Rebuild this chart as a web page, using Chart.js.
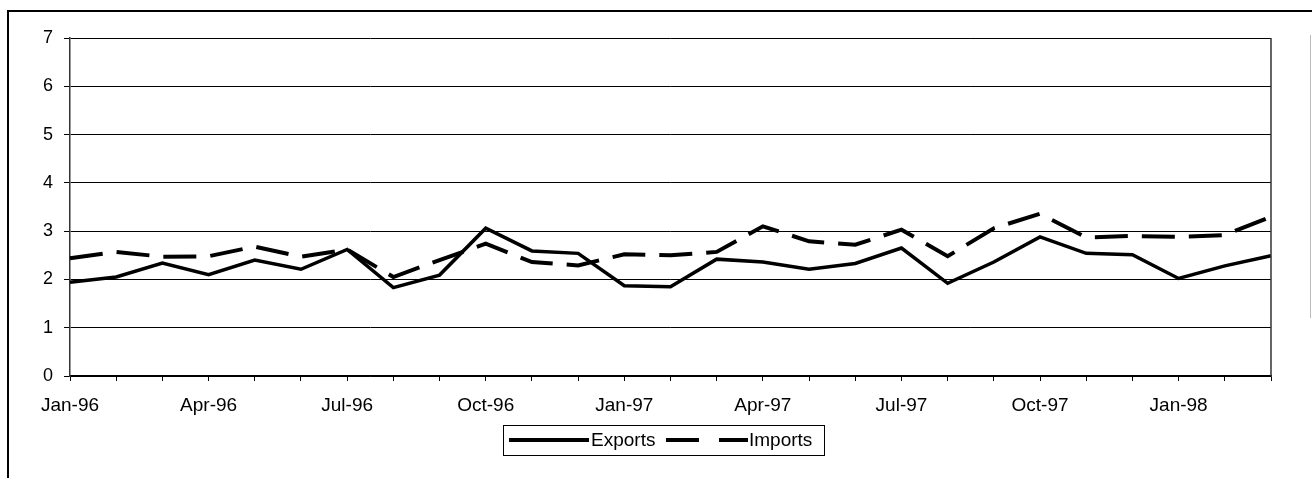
<!DOCTYPE html>
<html>
<head>
<meta charset="utf-8">
<script src="https://cdn.jsdelivr.net/npm/chart.js@4.4.1/dist/chart.umd.min.js"></script>
<style>
  html, body { margin: 0; padding: 0; background: #fff; }
  #wrap { width: 1312px; height: 478px; position: relative; }
  canvas { display: block; }
</style>
</head>
<body>
<div id="wrap"><canvas id="c" width="1312" height="478"></canvas></div>
<script>
const months = ["Jan-96","Feb-96","Mar-96","Apr-96","May-96","Jun-96","Jul-96","Aug-96","Sep-96","Oct-96","Nov-96","Dec-96",
                "Jan-97","Feb-97","Mar-97","Apr-97","May-97","Jun-97","Jul-97","Aug-97","Sep-97","Oct-97","Nov-97","Dec-97",
                "Jan-98","Feb-98","Mar-98"];
const exportsData = [1.94, 2.05, 2.34, 2.10, 2.40, 2.21, 2.62, 1.83, 2.09, 3.06, 2.59, 2.54, 1.87, 1.85, 2.42, 2.36, 2.21, 2.33, 2.65, 1.92, 2.36, 2.88, 2.54, 2.51, 2.02, 2.28, 2.49];
const importsData = [2.44, 2.57, 2.47, 2.48, 2.68, 2.47, 2.62, 2.05, 2.40, 2.74, 2.36, 2.29, 2.52, 2.50, 2.57, 3.10, 2.79, 2.72, 3.03, 2.48, 3.06, 3.36, 2.87, 2.90, 2.88, 2.92, 3.30];
const seriesNames = ["Exports", "Imports"];
const yTicks = [0, 1, 2, 3, 4, 5, 6, 7];

const FONT = "'Liberation Sans', Arial, Helvetica, sans-serif";
Chart.defaults.font.family = FONT;
Chart.defaults.color = "#000";

const framePlugin = {
  id: "frame",
  beforeDraw(chart) {
    const ctx = chart.ctx;
    ctx.save();
    ctx.fillStyle = "#fff";
    ctx.fillRect(0, 0, chart.width, chart.height);
    ctx.restore();
  },
  afterDraw(chart) {
    const ctx = chart.ctx;
    const a = chart.chartArea;
    ctx.save();
    // outer frame
    ctx.strokeStyle = "#000";
    ctx.lineWidth = 2;
    ctx.beginPath();
    ctx.moveTo(8, chart.height);
    ctx.lineTo(8, 11);
    ctx.lineTo(chart.width, 11);
    ctx.stroke();
    ctx.strokeStyle = "#bbb";
    ctx.lineWidth = 1;
    ctx.beginPath();
    ctx.moveTo(1310.5, 35);
    ctx.lineTo(1310.5, 318);
    ctx.stroke();
    // right plot border
    ctx.strokeStyle = "#333";
    ctx.lineWidth = 1.5;
    ctx.beginPath();
    ctx.moveTo(a.right, a.top);
    ctx.lineTo(a.right, a.bottom);
    ctx.stroke();

    // legend
    const lx = 503.5, ly = 425.5, lw = 321, lh = 30;
    ctx.strokeStyle = "#000";
    ctx.lineWidth = 1;
    ctx.strokeRect(lx, ly, lw, lh);
    const cy = 440;
    ctx.font = "19px " + FONT;
    ctx.fillStyle = "#000";
    ctx.textBaseline = "middle";
    ctx.textAlign = "left";
    const ds = chart.data.datasets;
    // Exports
    ctx.lineWidth = 4;
    ctx.setLineDash([]);
    ctx.beginPath();
    ctx.moveTo(509, cy);
    ctx.lineTo(589, cy);
    ctx.stroke();
    ctx.fillText(ds[0].label, 591, cy + 1);
    // Imports
    ctx.setLineDash([33, 20]);
    ctx.beginPath();
    ctx.moveTo(666, cy);
    ctx.lineTo(748, cy);
    ctx.stroke();
    ctx.setLineDash([]);
    ctx.fillText(ds[1].label, 749, cy + 1);
    ctx.restore();
  }
};

new Chart(document.getElementById("c"), {
  type: "line",
  data: {
    labels: months,
    datasets: [
      { label: seriesNames[0], data: exportsData, borderColor: "#000", borderWidth: 3.5,
        pointRadius: 0, tension: 0, fill: false },
      { label: seriesNames[1], data: importsData, borderColor: "#000", borderWidth: 4,
        borderDash: [33, 14], pointRadius: 0, tension: 0, fill: false }
    ]
  },
  options: {
    responsive: false,
    devicePixelRatio: 1,
    animation: false,
    layout: { padding: { left: 0, right: 41, top: 38, bottom: 0 } },
    plugins: { legend: { display: false }, tooltip: { enabled: false } },
    scales: {
      x: {
        type: "category",
        offset: false,
        grid: { drawOnChartArea: false, drawTicks: true, tickLength: 5, color: "#000", lineWidth: 1 },
        border: { color: "#000", width: 1.5 },
        ticks: {
          autoSkip: false, maxRotation: 0, minRotation: 0, padding: 13,
          font: { size: 19 }, color: "#000",
          callback: function(v, i) { return i % 3 === 0 ? months[i] : ""; }
        },
        afterFit(scale) { scale.height = 102; }
      },
      y: {
        min: 0, max: 7,
        afterBuildTicks(scale) { scale.ticks = yTicks.map(v => ({ value: v })); },
        grid: { color: "#000", lineWidth: 1, tickLength: 6, drawTicks: true },
        border: { color: "#333", width: 1.5 },
        ticks: { padding: 11, font: { size: 18 }, color: "#000" },
        afterFit(scale) { scale.width = 70; }
      }
    }
  },
  plugins: [framePlugin]
});
</script>
</body>
</html>
